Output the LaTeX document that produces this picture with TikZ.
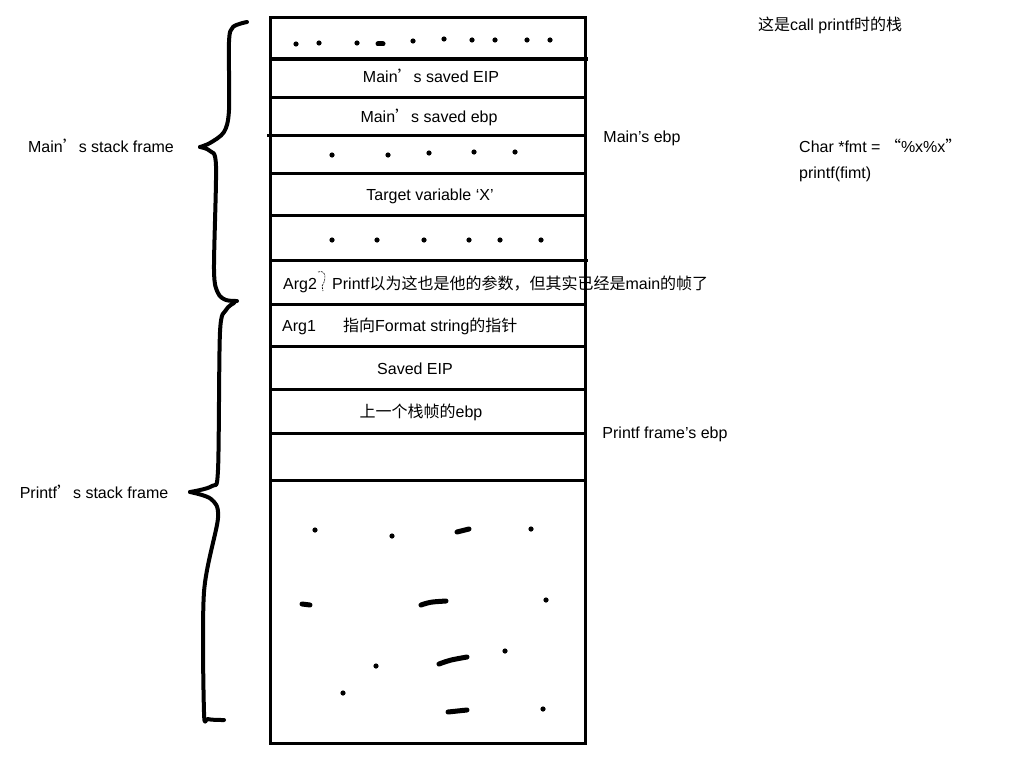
\documentclass[tikz,border=0pt]{standalone}
\usepackage{fontspec}
\setmainfont{Liberation Sans}
\newfontfamily\cjk{Noto Sans CJK SC}
\newcommand\wq[1]{{\cjk #1}}
\begin{document}
\begin{tikzpicture}[x=1pt,y=-1pt,font=\fontsize{16}{19}\selectfont,
  wall/.style={line width=3pt},
  curly/.style={line width=4pt,line cap=round,line join=round},
  blob/.style={line width=5pt,line cap=round},
  txt/.style={inner sep=0pt,text height=12pt,text depth=2pt}]
\useasboundingbox (0,0) rectangle (1024,768);
% stack
\draw[wall] (270,18) rectangle (585,743);
\foreach \y/\a/\b in {59/270/588,97/270/585,135/267/585,173/270/585,215/270/585,260/270/588,304/270/585,346/270/585,389/270/585,433/270/585,480/270/585}
  \draw[wall] (\a,\y) -- (\b,\y);
% dots
\foreach \x/\y in {296/44,319/43,357/43,413/41,444/39,472/40,495/40,527/40,550/40,
  332/155,388/155,429/153,474/152,515/152,
  332/240,377/240,424/240,469/240,500/240,541/240,
  315/530,392/536,531/529,546/600,505/651,376/666,343/693,543/709}
  \fill (\x,\y) circle (2.6);
\draw[blob] (378,44) -- (383,44);
\draw[blob] (457,532) -- (469,529);
\draw[blob] (302,604) -- (310,605);
\draw[blob] (421,605) .. controls (430,602) .. (446,601);
\draw[blob] (439,664) .. controls (450,660) .. (467,657);
\draw[blob] (448,712) -- (467,710);
% cell texts
\node[txt] (eip) at (431,77) {Main\wq{’}s saved EIP};
\node[txt] (ebp) at (429,117) {Main\wq{’}s saved ebp};
\node[txt] (xvar) at (430,195) {Target variable ‘X’};
\node[txt] (arg2) at (300,284) {Arg2};
\node[txt,anchor=west] (arg2note) at (332,284) {Printf{\cjk 以为这也是他的参数，但其实已经是}main{\cjk 的帧了}};
\node[txt] (arg1) at (299,326) {Arg1};
\node[txt,anchor=west] (arg1note) at (343,326) {{\cjk 指向}Format string{\cjk 的指针}};
\node[txt] (seip) at (415,369) {Saved EIP};
\node[txt] (sebp) at (421,412) {{\cjk 上一个栈帧的}ebp};
\draw[line width=0.6pt,dash pattern=on 2pt off 1pt] (318,272) .. controls (327,269) and (326,281) .. (322,286) -- (323,291);
% side labels
\node[txt] (mainebp) at (642,137) {Main’s ebp};
\node[txt] (pebp) at (665,433) {Printf frame’s ebp};
\node[txt] (title) at (830,26) {{\cjk 这是}call printf{\cjk 时的栈}};
\node[txt,anchor=west] (code1) at (799,147) {Char *fmt = \wq{“}\%x\%x\wq{”}};
\node[txt,anchor=west] (code2) at (799,173) {printf(fimt)};
\node[txt] (mainframe) at (101,147) {Main\wq{’}s stack frame};
\node[txt] (pframe) at (94,493) {Printf\wq{’}s stack frame};
% braces
\draw[curly] plot[smooth] coordinates {(247,22) (233,27) (229,42) (229,110) (224,132) (210,143) (200,147)};
\draw[curly] plot[smooth] coordinates {(200,147) (210,151) (216,166) (214,270) (218,293) (226,300) (237,301)};
\draw[curly] plot[smooth] coordinates {(234,303) (226,310) (220,332) (218,470) (212,486) (190,492)};
\draw[curly] plot[smooth] coordinates {(190,492) (211,499) (218,518) (204,592) (204,712) (208,719) (224,720)};
\end{tikzpicture}
\end{document}
